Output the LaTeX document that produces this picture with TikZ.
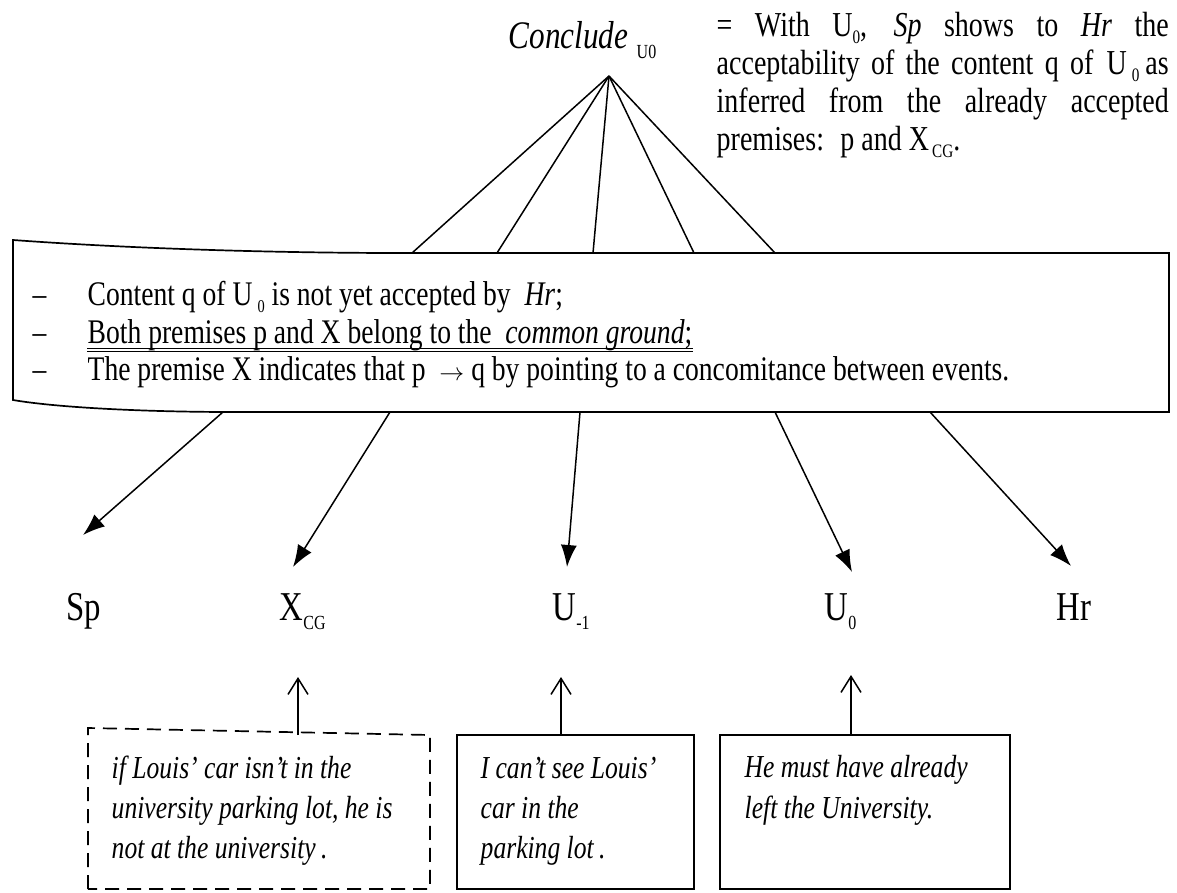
\documentclass[tikz,border=0pt]{standalone}
\usepackage{fontspec}
\setmainfont{Liberation Serif}[FakeStretch=0.8]
\usetikzlibrary{arrows.meta}
\newcommand{\myfs}[1]{\fontsize{#1}{#1}\selectfont}
\newcommand{\dsub}[2]{\smash{\raisebox{-0.22em}{\myfs{#1}#2}}}
\begin{document}
\begin{tikzpicture}[x=1pt,y=-1pt,line width=1.4pt,
  txt/.style={inner sep=0pt,anchor=base west,font=\myfs{34.5}},
  para/.style={inner sep=0pt,anchor=base west,font=\myfs{35}},
  lbl/.style={inner sep=0pt,anchor=base west,font=\myfs{41}},
  ex/.style={inner sep=0pt,anchor=base west,font=\myfs{32}\itshape},
  fan/.style={line width=1.5pt},
  down/.style={-{Latex[length=22pt,width=16pt]},line width=1.5pt},
  up/.style={-{Straight Barb[length=16pt,width=20pt]},line width=1.5pt},
  frame/.style={line width=1.7pt}]
\useasboundingbox (0,0) rectangle (1177,892);
% top label
\node[inner sep=0pt,anchor=base west,font=\myfs{39}\itshape] (concl) at (508,48) {Conclude};
\node[inner sep=0pt,anchor=base west,font=\myfs{20}] (conclsub) at (636,58) {U0};
\coordinate (apex) at (609,76);
% definition paragraph
\node[para] (def1) at (716,36) {\makebox[452pt][s]{= With U\dsub{19}{0}, \textit{Sp} shows to \textit{Hr} the}};
\node[para] (def2) at (716,74) {\makebox[452pt][s]{acceptability of the content q of \hspace{2pt}U\hspace{5pt}\dsub{19}{0}\hspace{6pt}as}};
\node[para] (def3) at (716,112) {\makebox[452pt][s]{inferred from the already accepted}};
\node[para] (def4) at (716,150) {premises: \ p and X\dsub{19}{\,CG}.};
% conditions box
\draw[frame] (13,240) .. controls (150,250) and (300,253) .. (400,253) -- (1169,253)
  -- (1169,412) -- (233,412) .. controls (150,412) and (60,408) .. (13,400) -- cycle;
\coordinate (t1) at (412,253);
\coordinate (t2) at (497,253);
\coordinate (t3) at (593,253);
\coordinate (t4) at (694,253);
\coordinate (t5) at (775,253);
\foreach \i in {1,...,5} \draw[fan] (apex) -- (t\i);
\node[txt] (dash1) at (32,305) {–};
\node[txt] (dash2) at (32,343) {–};
\node[txt] (dash3) at (32,380) {–};
\node[txt] (c1) at (87,305) {Content q of U\hspace{5pt}\dsub{18}{0} is not yet accepted by \ \textit{Hr};};
\node[txt] (c2) at (87,343) {Both premises p and X belong to the \ \textit{common ground};};
\node[txt] (c3) at (87,380) {The premise X indicates that p \ $\rightarrow$ q by pointing to a concomitance between events.};
\draw[line width=0.7pt] ([yshift=-5pt]c2.base west) -- ([yshift=-5pt]c2.base east);
\draw[line width=0.7pt] ([yshift=-8pt]c2.base west) -- ([yshift=-8pt]c2.base east);
% lower arrows
\coordinate (b1) at (223,412);
\coordinate (b2) at (390,412);
\coordinate (b3) at (580,412);
\coordinate (b4) at (775,412);
\coordinate (b5) at (930,412);
\coordinate (e1) at (83,535);
\coordinate (e2) at (293,567);
\coordinate (e3) at (567,567);
\coordinate (e4) at (852,572);
\coordinate (e5) at (1071,566);
\foreach \i in {1,...,5} \draw[down] (b\i) -- (e\i);
% participant labels
\node[lbl] (sp) at (66,620) {Sp};
\node[lbl] (xcg) at (279,620) {X\dsub{20}{CG}};
\node[lbl] (um1) at (552,620) {U\dsub{20}{-1}};
\node[lbl] (u0) at (824,620) {U\dsub{20}{0}};
\node[lbl] (hr) at (1056,620) {Hr};
% example boxes
\draw[frame,dash pattern=on 14pt off 8pt] (88,889) -- (88,728) -- (430,735) -- (430,889) -- cycle;
\draw[frame] (457,889) rectangle (694,735);
\draw[frame] (720,889) rectangle (1010,735);
\coordinate (a1) at (298,735);
\coordinate (a2) at (561,735);
\coordinate (a3) at (851,735);
\coordinate (h1) at (298,677);
\coordinate (h2) at (561,677);
\coordinate (h3) at (851,675);
\foreach \i in {1,2,3} \draw[up] (a\i) -- (h\i);
\node[ex] (x1) at (111,778) {if Louis' car isn't in the};
\node[ex] (x2) at (111,818) {university parking lot, he is};
\node[ex] (x3) at (111,858) {not at the university\,.};
\node[ex] (y1) at (480,778) {I can't see Louis'};
\node[ex] (y2) at (480,818) {car in the};
\node[ex] (y3) at (480,858) {parking lot\,.};
\node[ex] (z1) at (744,777) {He must have already};
\node[ex] (z2) at (744,818) {left the University.};
\end{tikzpicture}
\end{document}
